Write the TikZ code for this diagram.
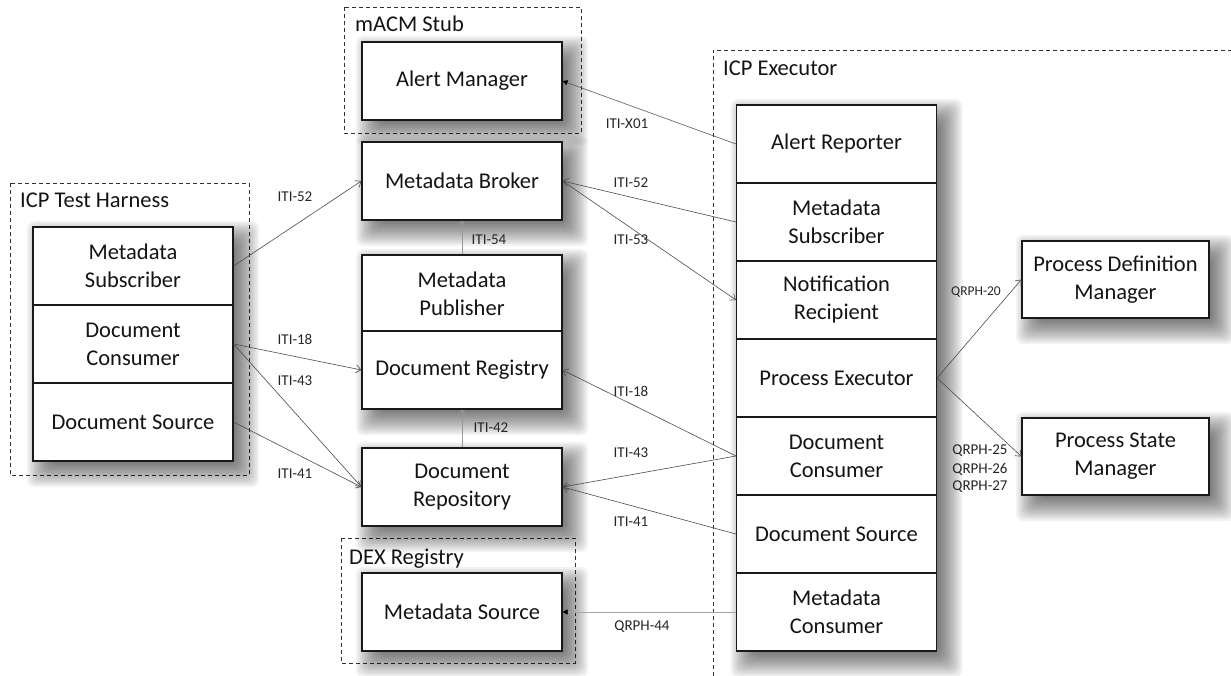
\documentclass[tikz,border=0pt]{standalone}
\usepackage{fontspec}
\setmainfont{Carlito}
\usetikzlibrary{arrows.meta}

\tikzset{
  boxfont/.style={font=\fontsize{22.5}{28}\selectfont},
  cell/.style={draw=black!90, line width=1.1pt, fill=white, minimum width=200pt,
    minimum height=78pt, inner sep=0pt, align=center, boxfont, text=black!92},
  shadelayer/.style={fill=black, fill opacity=0.052, rounded corners=7pt},
  group/.style={draw=black!80, line width=0.8pt, dash pattern=on 4pt off 3pt},
  grouptitle/.style={anchor=base west, inner sep=0pt, boxfont, text=black!92},
  lbl/.style={inner sep=0pt, font=\fontsize{15}{18}\selectfont, text=black!85},
  link/.style={draw=black!70, line width=0.6pt,
    -{Straight Barb[length=5pt,width=8pt,line width=0.6pt]}},
  softlink/.style={link, draw=black!40},
  solidlink/.style={draw=black!35, line width=0.6pt,
    -{Triangle[length=5pt,width=5pt,color=black]}},
  darklink/.style={draw=black!65, line width=0.6pt,
    -{Triangle[length=5pt,width=5pt,color=black]}},
}

% soft drop shadow: stacked translucent rectangles, offset down and right
\newcommand\boxshade[4]{%
  \foreach \e in {0,2,...,32}{%
    \fill[shadelayer] ({#1+26-\e},{#2+26-\e}) rectangle ({#3-6+\e},{#4-6+\e});
  }%
}

\begin{document}
\begin{tikzpicture}[x=1pt,y=-1pt]
\clip (0,0) rectangle (1231,676);
\fill[white] (0,0) rectangle (1231,676);

% ---- group frames ----
\path[group] (1260,50) -- (713,50) -- (713,700);
\path[group] (10,183) rectangle (249,475);
\path[group] (344,7) rectangle (581,133);
\path[group] (341,538) rectangle (575,663);

\node[grouptitle] (t-harness) at (20,208) {ICP Test Harness};
\node[grouptitle] (t-macm) at (355,32) {mACM Stub};
\node[grouptitle] (t-exec) at (723,76) {ICP Executor};
\node[grouptitle] (t-dex) at (349,564) {DEX Registry};

% ---- shadows under the boxes ----
\boxshade{33}{227}{233}{461}
\boxshade{362}{42}{562}{120}
\boxshade{362}{142}{562}{220}
\boxshade{362}{255}{562}{409}
\boxshade{362}{448}{562}{526}
\boxshade{362}{573}{562}{651}
\boxshade{736.5}{105}{936.5}{651}
\boxshade{1022}{241}{1209}{318}
\boxshade{1022}{418}{1209}{495}

% ---- ICP Test Harness ----
\node[cell] (th-sub) at (133,266) {Metadata\\Subscriber};
\node[cell] (th-con) at (133,344) {Document\\Consumer};
\node[cell] (th-src) at (133,422) {Document Source};

% ---- central column ----
\node[cell] (alert-mgr) at (462,81) {Alert Manager};
\node[cell] (broker) at (462,181) {Metadata Broker};
\node[cell] (publisher) at (462,294) {Metadata\\Publisher};
\node[cell] (registry) at (462,370) {Document Registry};
\node[cell] (repository) at (462,487) {Document\\Repository};
\node[cell] (md-source) at (462,612) {Metadata Source};

% ---- ICP Executor ----
\node[cell] (ex-alert) at (836.5,144) {Alert Reporter};
\node[cell] (ex-sub) at (836.5,222) {Metadata\\Subscriber};
\node[cell] (ex-notif) at (836.5,300) {Notification\\Recipient};
\node[cell] (ex-proc) at (836.5,378) {Process Executor};
\node[cell] (ex-con) at (836.5,456) {Document\\Consumer};
\node[cell] (ex-src) at (836.5,534) {Document Source};
\node[cell] (ex-mdc) at (836.5,612) {Metadata\\Consumer};

% ---- process managers ----
\node[cell, minimum width=187pt, minimum height=77pt] (pdm) at (1115.5,279.5) {Process Definition\\Manager};
\node[cell, minimum width=187pt, minimum height=77pt] (psm) at (1115.5,456.5) {Process State\\Manager};

% ---- transactions ----
\draw[link] (th-sub.east) -- (broker.west);
\draw[link] (th-con.east) -- (registry.west);
\draw[link] (th-con.east) -- (repository.west);
\draw[link] (th-src.east) -- (repository.west);

\draw[softlink] (publisher.north) -- (broker.south);
\draw[softlink] (repository.north) -- (registry.south);

\draw[darklink] (ex-alert.west) -- (alert-mgr.east);
\draw[link] (ex-sub.west) -- (broker.east);
\draw[link] (broker.east) -- (ex-notif.west);
\draw[link] (ex-con.west) -- (registry.east);
\draw[link] (ex-con.west) -- (repository.east);
\draw[link] (ex-src.west) -- (repository.east);
\draw[solidlink] (ex-mdc.west) -- (md-source.east);

\draw[link] (ex-proc.east) -- (pdm.west);
\draw[link] (ex-proc.east) -- (psm.west);

% ---- transaction labels ----
\node[lbl] (l-52a) at (295,197) {ITI-52};
\node[lbl] (l-18a) at (295,339) {ITI-18};
\node[lbl] (l-43a) at (295,381) {ITI-43};
\node[lbl] (l-41a) at (295,474) {ITI-41};
\node[lbl] (l-54) at (489,240) {ITI-54};
\node[lbl] (l-42) at (491,428) {ITI-42};
\node[lbl] (l-x01) at (627,124) {ITI-X01};
\node[lbl] (l-52b) at (631,183) {ITI-52};
\node[lbl] (l-53) at (631,240) {ITI-53};
\node[lbl] (l-18b) at (631,391) {ITI-18};
\node[lbl] (l-43b) at (631,453) {ITI-43};
\node[lbl] (l-41b) at (631,522) {ITI-41};
\node[lbl] (l-q44) at (642,627) {QRPH-44};
\node[lbl, font=\fontsize{13.5}{16}\selectfont] (l-q20) at (976,292) {QRPH-20};
\node[lbl] (l-q25) at (980,451) {QRPH-25};
\node[lbl] (l-q26) at (980,469) {QRPH-26};
\node[lbl] (l-q27) at (980,487) {QRPH-27};
\end{tikzpicture}
\end{document}
